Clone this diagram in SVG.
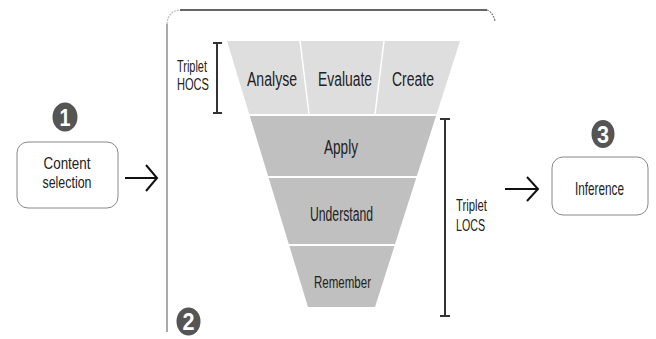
<svg xmlns="http://www.w3.org/2000/svg" width="656" height="339" viewBox="0 0 656 339">
<style>
text{font-family:"Liberation Sans",Arial,sans-serif;fill:#222;}
.lbl{font-size:20px;text-anchor:middle;}
.sm{font-size:16px;}
.num{font-size:24px;font-weight:bold;fill:#fff;text-anchor:middle;}
.box{fill:#fff;stroke:#888;stroke-width:1;}
.badge{fill:#555;}
.top{fill:#dedede;}
.low{fill:#c0c0c0;}
.br{stroke:#333;stroke-width:2;fill:none;}
.arr{stroke:#111;stroke-width:2;fill:none;}
</style>
<rect width="656" height="339" fill="#fff"/>
<g id="frame">
<path d="M167,332 L167,24" stroke="#aaa" stroke-width="2" fill="none"/>
<path d="M167,24 Q168,11 180,10" stroke="#bbb" stroke-width="1.2" fill="none" stroke-dasharray="2 1"/>
<path d="M180,10 L487,10" stroke="#333" stroke-width="1.5" fill="none"/>
<path d="M487,10 Q493,12 495,21" stroke="#777" stroke-width="1.2" fill="none" stroke-dasharray="2 1"/>
</g>
<g id="node-content">
<ellipse class="badge" cx="65" cy="117" rx="12.5" ry="14.5"/>
<text class="num" x="65" y="125.5" textLength="11" lengthAdjust="spacingAndGlyphs">1</text>
<rect class="box" x="17" y="142" width="101" height="66" rx="11"/>
<text class="sm" x="67" y="168.5" text-anchor="middle" textLength="47" lengthAdjust="spacingAndGlyphs">Content</text>
<text class="sm" x="67" y="187.5" text-anchor="middle" textLength="49" lengthAdjust="spacingAndGlyphs">selection</text>
</g>
<g id="node-funnel">
<polygon class="top" points="227,41 460,41 436.7,114 249.2,114"/>
<line x1="300" y1="41" x2="309" y2="114" stroke="#fff" stroke-width="1.5"/>
<line x1="384" y1="41" x2="375" y2="114" stroke="#fff" stroke-width="1.5"/>
<polygon class="low" points="249.8,116 436,116 416.9,176 268.1,176"/>
<polygon class="low" points="268.7,178 416.2,178 395.1,244 288.8,244"/>
<polygon class="low" points="289.4,246 394.5,246 375,307 308,307"/>
<text class="lbl" x="272" y="85.5" textLength="50" lengthAdjust="spacingAndGlyphs">Analyse</text>
<text class="lbl" x="345" y="85.5" textLength="54" lengthAdjust="spacingAndGlyphs">Evaluate</text>
<text class="lbl" x="413" y="85.5" textLength="42" lengthAdjust="spacingAndGlyphs">Create</text>
<text class="lbl" x="341" y="153.5" textLength="34" lengthAdjust="spacingAndGlyphs">Apply</text>
<text class="lbl" x="341.5" y="220.5" textLength="63" lengthAdjust="spacingAndGlyphs">Understand</text>
<text class="lbl" x="342.5" y="287.5" textLength="57" lengthAdjust="spacingAndGlyphs" style="font-size:17px">Remember</text>
<ellipse class="badge" cx="188.5" cy="321.5" rx="12" ry="14"/>
<text class="num" x="188.5" y="330" textLength="12" lengthAdjust="spacingAndGlyphs">2</text>
</g>
<g id="node-hocs">
<path class="br" d="M217,43 L217,113 M213,43 L222,43 M213,113 L222,113"/>
<text class="sm" x="177" y="72" textLength="30" lengthAdjust="spacingAndGlyphs">Triplet</text>
<text class="sm" x="177" y="89.5" textLength="32" lengthAdjust="spacingAndGlyphs">HOCS</text>
</g>
<g id="node-locs">
<path class="br" d="M445,119 L445,316 M440,119 L450,119 M440,316 L450,316"/>
<text class="sm" x="456" y="211" textLength="31" lengthAdjust="spacingAndGlyphs">Triplet</text>
<text class="sm" x="456" y="230.5" textLength="29" lengthAdjust="spacingAndGlyphs">LOCS</text>
</g>
<g id="node-inference">
<ellipse class="badge" cx="603" cy="134" rx="11.5" ry="14"/>
<text class="num" x="603" y="142.5" textLength="12" lengthAdjust="spacingAndGlyphs">3</text>
<rect class="box" x="552" y="157" width="96" height="58" rx="11"/>
<text class="lbl" x="599.5" y="195" style="font-size:19px" textLength="49" lengthAdjust="spacingAndGlyphs">Inference</text>
</g>
<g id="connectors">
<path class="arr" d="M125,178 L157,178 M146,165 L157,178 L146,191"/>
<path class="arr" d="M505,189 L538,189 M527,177 L538,189 L527,201"/>
</g>
</svg>
